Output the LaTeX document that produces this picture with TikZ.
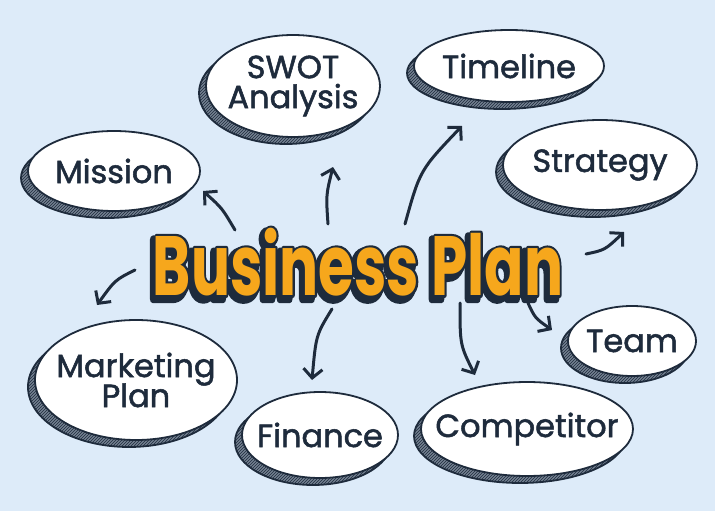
\documentclass[tikz,border=0pt]{standalone}
\usepackage{fontspec}
\setmainfont{Poppins}
\newfontfamily\labfont[FakeBold=1.6]{Poppins}
\usetikzlibrary{shapes.geometric,arrows.meta,patterns}
\definecolor{bg}{HTML}{DDEBF9}
\definecolor{ink}{HTML}{1E2B3C}
\definecolor{gold}{HTML}{F6A71C}
% outlined text: #1 stroke width, #2 stroke rgb, #3 text
\newcommand{\strk}[3]{\special{pdf:literal direct #1 w 1 j #2 RG 2 Tr}#3\special{pdf:literal direct 0 Tr}}
\newcommand{\bpstroke}[2]{\scalebox{1}[1.45]{\strk{#1}{#2}{Business Plan}}}
\newcommand{\bpplain}{\scalebox{1}[1.45]{Business Plan}}
\tikzset{
  blobshadow/.style={draw=ink, line width=1.8pt, fill=ink!55!bg,
    postaction={pattern=north east lines, pattern color=ink}},
  blob/.style={draw=ink, line width=1.8pt, fill=white},
  lbl/.style={text=ink, font=\labfont\fontsize{32}{34}\selectfont, align=center, inner sep=0pt},
  titlefont/.style={font=\fontsize{58}{60}\selectfont\bfseries, inner sep=0pt},
  link/.style={draw=ink, line width=3pt, line cap=round,
    -{Straight Barb[length=9pt,width=19pt]}},
}
% #1 name, #2 x, #3 y, #4 rx, #5 ry, #6 text
\newcommand{\mybubble}[6]{%
  \path[blobshadow] (#2-7,#3+7) ellipse [x radius=#4, y radius=#5];
  \path[blob] (#2,#3) ellipse [x radius=#4, y radius=#5];
  \node[lbl] (#1) at (#2,#3) {#6};}
\begin{document}
\begin{tikzpicture}[x=1pt,y=-1pt]
\fill[bg] (0,0) rectangle (715,511);
\useasboundingbox (0,0) rectangle (715,511);

% bubbles
\mybubble{mission}{114}{171}{86}{40}{Mission}
\mybubble{swot}{293}{86}{87}{51}{SWOT\\[-4pt]Analysis}
\mybubble{timeline}{509}{66}{95}{36}{Timeline}
\mybubble{strategy}{600}{165}{97}{45}{Strategy}
\mybubble{team}{632}{341}{64}{35}{Team}
\mybubble{competitor}{527}{429}{106}{47}{Competitor}
\mybubble{finance}{320}{435}{78}{43}{Finance}
\mybubble{marketing}{136}{380}{101}{60}{Marketing\\[-4pt]Plan}

% title: extruded shadow, dark outline, gold fill
\node[titlefont, text=ink!60!bg, xshift=-3.5pt, yshift=-3.5pt] (tshadow) at (358,262) {\bpstroke{6}{0.118 0.169 0.235}};
\node[titlefont, text=ink] (toutline) at (358,262) {\bpstroke{3.4}{0.118 0.169 0.235}};
\node[titlefont, text=gold] (title) at (358,262) {\bpplain};

% arrow end points
\coordinate (m1) at (235,230); \coordinate (m2) at (203,191);
\coordinate (s1) at (328,224); \coordinate (s2) at (333,167);
\coordinate (t1) at (405,224); \coordinate (t2) at (462,126);
\coordinate (g1) at (586,254); \coordinate (g2) at (624,232);
\coordinate (e1) at (528,303); \coordinate (e2) at (552,330);
\coordinate (c1) at (460,303); \coordinate (c2) at (475,375);
\coordinate (f1) at (332,309); \coordinate (f2) at (312,380);
\coordinate (k1) at (135,270); \coordinate (k2) at (97,305);

\draw[link] (m1) .. controls (222,208) .. (m2);
\draw[link] (s1) .. controls (326,195) .. (s2);
\draw[link] (t1) .. controls (420,170) .. (t2);
\draw[link] (g1) .. controls (605,250) .. (g2);
\draw[link] (e1) .. controls (535,318) .. (e2);
\draw[link] (c1) .. controls (460,345) .. (c2);
\draw[link] (f1) .. controls (316,335) .. (f2);
\draw[link] (k1) .. controls (115,280) .. (k2);
\end{tikzpicture}
\end{document}
